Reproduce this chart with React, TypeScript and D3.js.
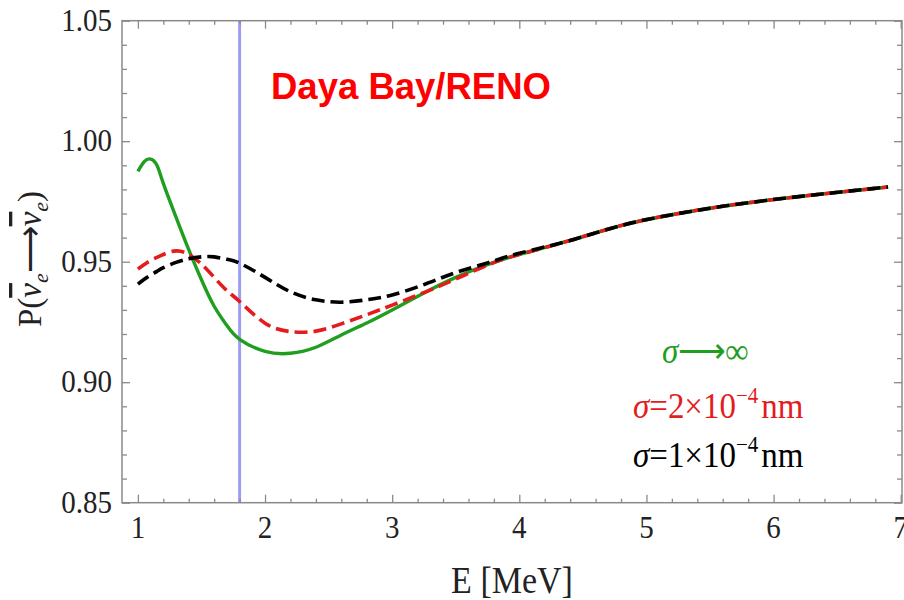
import * as d3 from 'd3'
import { useEffect, useRef } from 'react'

// energy grid [MeV]
const energy = [1.0, 1.05, 1.1, 1.15, 1.2, 1.3, 1.4, 1.5, 1.6, 1.7, 1.8, 2.0, 2.2, 2.4, 2.6, 2.8, 3.0, 3.25, 3.5, 3.75, 4.0, 4.4, 4.8, 5.2, 5.6, 6.0, 6.4, 6.9]

// survival probability, sigma -> infinity (green solid)
const probInf = [0.9875, 0.9915, 0.9926, 0.990, 0.9825, 0.9685, 0.955, 0.9425, 0.9315, 0.9235, 0.9178, 0.9128, 0.912, 0.9145, 0.9196, 0.9246, 0.930, 0.937, 0.9435, 0.9488, 0.953, 0.9588, 0.965, 0.9695, 0.973, 0.9758, 0.9782, 0.981]
// sigma = 2e-4 nm (red dashed)
const probSigma2 = [0.947, 0.9488, 0.9505, 0.9518, 0.953, 0.9545, 0.953, 0.949, 0.9435, 0.938, 0.9335, 0.9245, 0.921, 0.9212, 0.9242, 0.928, 0.932, 0.9372, 0.9428, 0.9486, 0.953, 0.9588, 0.965, 0.9695, 0.973, 0.9758, 0.9782, 0.981]
// sigma = 1e-4 nm (black dashed)
const probSigma1 = [0.9407, 0.9427, 0.9445, 0.946, 0.9475, 0.9497, 0.9512, 0.952, 0.952, 0.951, 0.9494, 0.9435, 0.9375, 0.9342, 0.9332, 0.9342, 0.9362, 0.9405, 0.9455, 0.9495, 0.9535, 0.9588, 0.965, 0.9695, 0.973, 0.9758, 0.9782, 0.981]

const xMajor = [1, 2, 3, 4, 5, 6, 7]
const yMajor = [0.85, 0.9, 0.95, 1.0, 1.05]
const markerE = 1.8

export default function App() {
  const svgRef = useRef<SVGSVGElement>(null)

  useEffect(() => {
    const svg = d3.select(svgRef.current)
    svg.selectAll('*').remove()

    const left = 122, right = 902, top = 20.7, bottom = 502.7
    const x = d3.scaleLinear().domain([0.875, 7.01]).range([left, right])
    const y = d3.scaleLinear().domain([0.85, 1.05]).range([bottom, top])

    const axisColor = '#8a8a8a'
    const serif = '"Liberation Serif", "Times New Roman", serif'

    const xMinor = d3.range(1, 7.01, 0.2).filter(v => Math.abs(v - Math.round(v)) > 0.01)
    const yMinor = d3.range(0.85, 1.0501, 0.01).filter(v => Math.abs(v * 20 - Math.round(v * 20)) > 0.01)

    // blue marker line
    svg.append('line')
      .attr('x1', x(markerE)).attr('x2', x(markerE))
      .attr('y1', top).attr('y2', bottom)
      .attr('stroke', '#9d9df2').attr('stroke-width', 3)

    // ticks on all four sides (pointing inward)
    const addAxis = (axis: any, tx: number, ty: number) => {
      const g = svg.append('g').attr('transform', `translate(${tx},${ty})`).call(axis)
      g.select('.domain').remove()
      g.selectAll('line').attr('stroke', axisColor).attr('stroke-width', 1.3)
      return g
    }
    const none = () => ''
    addAxis(d3.axisBottom(x).tickValues(xMajor).tickSize(-8).tickFormat(none), 0, bottom)
    addAxis(d3.axisBottom(x).tickValues(xMinor).tickSize(-4).tickFormat(none), 0, bottom)
    addAxis(d3.axisTop(x).tickValues(xMajor).tickSize(-8).tickFormat(none), 0, top)
    addAxis(d3.axisTop(x).tickValues(xMinor).tickSize(-4).tickFormat(none), 0, top)
    addAxis(d3.axisLeft(y).tickValues(yMajor).tickSize(-8).tickFormat(none), left, 0)
    addAxis(d3.axisLeft(y).tickValues(yMinor).tickSize(-5).tickFormat(none), left, 0)
    addAxis(d3.axisRight(y).tickValues(yMajor).tickSize(-8).tickFormat(none), right, 0)
    addAxis(d3.axisRight(y).tickValues(yMinor).tickSize(-5).tickFormat(none), right, 0)

    // frame
    svg.append('rect')
      .attr('x', left).attr('y', top)
      .attr('width', right - left).attr('height', bottom - top)
      .attr('fill', 'none').attr('stroke', axisColor).attr('stroke-width', 1.5)

    // tick labels
    svg.append('g').selectAll('text').data(xMajor).join('text')
      .attr('transform', d => `translate(${x(d)},538) scale(1,1.1)`)
      .attr('text-anchor', 'middle')
      .attr('font-family', serif).attr('font-size', 29)
      .attr('fill', '#222')
      .text(d => d)
    svg.append('g').selectAll('text').data(yMajor).join('text')
      .attr('transform', d => `translate(112,${y(d) + 10}) scale(1,1.1)`)
      .attr('text-anchor', 'end')
      .attr('font-family', serif).attr('font-size', 29)
      .attr('fill', '#222')
      .text(d => d3.format('.2f')(d))

    // curves
    const line = d3.line<number>()
      .x((_, i) => x(energy[i]))
      .y(d => y(d))
      .curve(d3.curveNatural)

    svg.append('path').attr('d', line(probInf))
      .attr('fill', 'none').attr('stroke', '#1f9e1f').attr('stroke-width', 3.4)
    svg.append('path').attr('d', line(probSigma2))
      .attr('fill', 'none').attr('stroke', '#e41c1c').attr('stroke-width', 3.6)
      .attr('stroke-dasharray', '13 6')
    svg.append('path').attr('d', line(probSigma1))
      .attr('fill', 'none').attr('stroke', '#000').attr('stroke-width', 3.6)
      .attr('stroke-dasharray', '13 6')

    // title inside plot
    svg.append('text')
      .attr('x', 271).attr('y', 99)
      .attr('font-family', '"Liberation Sans", Arial, sans-serif')
      .attr('font-weight', 'bold').attr('font-size', 36.5)
      .attr('fill', '#ff0000')
      .text('Daya Bay/RENO')

    // legend labels
    const legend = [
      { parts: ['σ', '⟶∞'], sup: '', tail: '', color: '#1f9e1f', x: 662, y: 363 },
      { parts: ['σ', '=2×10'], sup: '−4', tail: 'nm', color: '#e41c1c', x: 633, y: 418 },
      { parts: ['σ', '=1×10'], sup: '−4', tail: 'nm', color: '#000', x: 633, y: 467 }
    ]
    legend.forEach(l => {
      const t = svg.append('text')
        .attr('transform', `translate(${l.x},${l.y}) scale(1,1.08)`)
        .attr('font-family', serif).attr('font-size', 33)
        .attr('fill', l.color)
      t.append('tspan').attr('font-style', 'italic').text(l.parts[0])
      t.append('tspan').text(l.parts[1])
      if (l.sup) {
        t.append('tspan').attr('font-size', 21).attr('dy', -14).text(l.sup)
        t.append('tspan').attr('dy', 14).attr('dx', 3).text(l.tail)
      }
    })

    // axis titles
    svg.append('text')
      .attr('transform', 'translate(512,593) scale(1,1.1)')
      .attr('text-anchor', 'middle')
      .attr('font-family', serif).attr('font-size', 34)
      .attr('fill', '#222')
      .text('E [MeV]')

    const yl = svg.append('text')
      .attr('transform', 'translate(41,259) rotate(-90)')
      .attr('text-anchor', 'middle')
      .attr('font-family', serif).attr('font-size', 33)
      .attr('fill', '#222')
    const nu = () => yl.append('tspan').attr('font-style', 'italic')
      .style('text-decoration', 'overline').text('ν')
    yl.append('tspan').text('P(')
    nu()
    yl.append('tspan').attr('font-style', 'italic').attr('font-size', 22).attr('dy', 7).text('e')
    yl.append('tspan').attr('dy', -7).text('⟶')
    nu()
    yl.append('tspan').attr('font-style', 'italic').attr('font-size', 22).attr('dy', 7).text('e')
    yl.append('tspan').attr('dy', -7).text(')')
  }, [])

  return (
    <svg ref={svgRef} width={904} height={600}
      style={{ position: 'absolute', left: 0, top: 0, background: '#fff' }} />
  )
}
